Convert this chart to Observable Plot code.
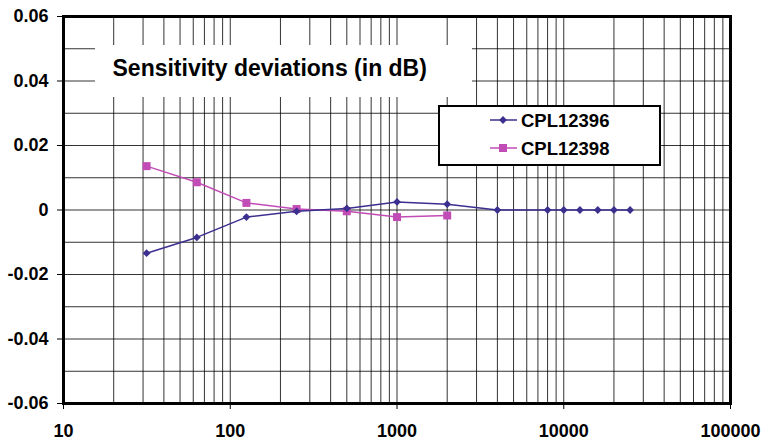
<!DOCTYPE html>
<html><head><meta charset="utf-8">
<script src="https://cdn.jsdelivr.net/npm/d3@7"></script>
<script src="https://cdn.jsdelivr.net/npm/@observablehq/plot@0.6"></script>
<style>
body{margin:0;background:#fff;}
#wrap{position:relative;width:763px;height:442px;font-family:"Liberation Sans",Arial,sans-serif;}
#title{position:absolute;left:95px;top:45px;width:377px;height:52px;background:#fff;font-weight:bold;font-size:23px;box-sizing:border-box;padding-left:17.5px;line-height:47.5px;color:#000;white-space:nowrap;}
#legend{position:absolute;left:438px;top:105px;}
</style></head><body><div id="wrap"></div>
<script>
const frequencies = [31.5, 63, 125, 250, 500, 1000, 2000, 4000, 8000, 10000, 12500, 16000, 20000, 25000];
const cpl12396 = [-0.0134, -0.0085, -0.0022, -0.0004, 0.0005, 0.0025, 0.0018, 0, 0, 0, 0, 0, 0, 0];
const cpl12398 = [0.0136, 0.0086, 0.0022, 0.0003, -0.0004, -0.0022, -0.0017];
const seriesNames = ["CPL12396", "CPL12398"];
const seriesColors = ["#3b2f8f", "#c24cb6"];
const seriesSymbols = ["diamond2", "square"];
const seriesR = [3.5, 4.5];
const xTicks = [10, 100, 1000, 10000, 100000];
const yTicks = [-0.06, -0.04, -0.02, 0, 0.02, 0.04, 0.06];
const yGrid = [-0.05, -0.04, -0.03, -0.02, -0.01, 0, 0.01, 0.02, 0.03, 0.04, 0.05];
const title = "Sensitivity deviations (in dB)";

const xGrid = [];
for (const d of [10, 100, 1000, 10000]) for (let k = 1; k <= 9; k++) xGrid.push(d * k);
xGrid.push(100000);

const rows1 = frequencies.map((f, i) => ({f, v: cpl12396[i]}));
const rows2 = cpl12398.map((v, i) => ({f: frequencies[i], v}));

const plot = Plot.plot({
  width: 763, height: 442,
  marginLeft: 63, marginRight: 33, marginTop: 16, marginBottom: 39,
  style: {fontFamily: '"Liberation Sans",Arial,sans-serif', fontWeight: "bold", fontSize: "18px", background: "#fff", color: "#000"},
  x: {type: "log", domain: [10, 100000], ticks: xTicks, tickFormat: d => String(d), tickSize: 6, tickPadding: 15, label: null},
  y: {domain: [-0.06, 0.06], ticks: yTicks, tickFormat: d => d === 0 ? "0" : d.toFixed(2), tickSize: 6, tickPadding: 9, label: null},
  marks: [
    Plot.ruleX(xGrid, {stroke: "#000", strokeOpacity: 0.8, strokeWidth: 1}),
    Plot.ruleY(yGrid, {stroke: "#000", strokeOpacity: 0.8, strokeWidth: 1}),
    Plot.line(rows2, {x: "f", y: "v", stroke: seriesColors[1], strokeWidth: 1.5}),
    Plot.dot(rows2, {x: "f", y: "v", symbol: seriesSymbols[1], r: seriesR[1], fill: seriesColors[1], stroke: "none"}),
    Plot.line(rows1, {x: "f", y: "v", stroke: seriesColors[0], strokeWidth: 1.5}),
    Plot.dot(rows1, {x: "f", y: "v", symbol: seriesSymbols[0], r: seriesR[0], fill: seriesColors[0], stroke: "none"}),
    Plot.frame({stroke: "#000", strokeWidth: 3})
  ]
});
const wrap = document.getElementById("wrap");
wrap.appendChild(plot);

const t = document.createElement("div");
t.id = "title";
t.textContent = title;
wrap.appendChild(t);

// legend
const lw = 223, lh = 61;
const leg = d3.create("svg").attr("id", "legend").attr("width", lw).attr("height", lh)
  .style("font-family", '"Liberation Sans",Arial,sans-serif');
leg.append("rect").attr("x", 1).attr("y", 1).attr("width", lw - 2).attr("height", lh - 2)
  .attr("fill", "#fff").attr("stroke", "#000").attr("stroke-width", 2);
const symMap = {diamond2: d3.symbolDiamond2, square: d3.symbolSquare};
seriesNames.forEach((name, i) => {
  const cy = 15 + i * 28;
  leg.append("line").attr("x1", 52).attr("x2", 79).attr("y1", cy).attr("y2", cy)
    .attr("stroke", seriesColors[i]).attr("stroke-width", 1.5);
  leg.append("path").attr("transform", `translate(65,${cy})`)
    .attr("d", d3.symbol(symMap[seriesSymbols[i]], Math.PI * seriesR[i] * seriesR[i])())
    .attr("fill", seriesColors[i]);
  leg.append("text").attr("x", 83).attr("y", cy + 6.7).attr("font-size", 18.5).attr("font-weight", "bold")
    .attr("fill", "#000").text(name);
});
wrap.appendChild(leg.node());
</script>
</body></html>
